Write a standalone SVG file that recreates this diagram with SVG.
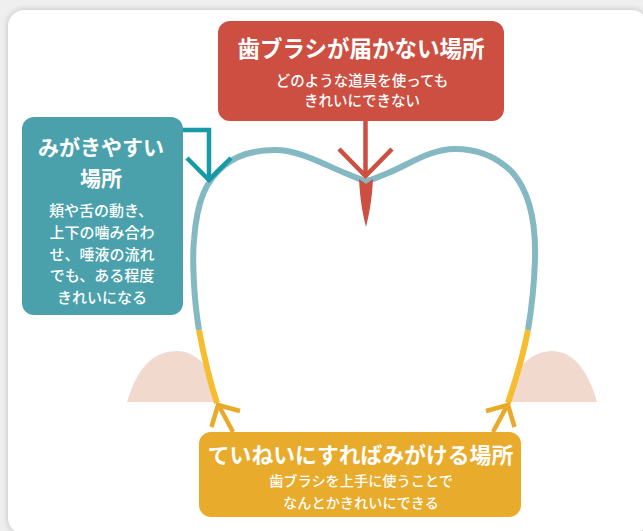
<svg xmlns="http://www.w3.org/2000/svg" width="643" height="531" viewBox="0 0 643 531">
  <defs>
    <filter id="soft" x="-10%" y="-10%" width="120%" height="120%">
      <feGaussianBlur stdDeviation="3"/>
    </filter>
    <style>
      .title { font-family: "Noto Sans CJK JP", "Noto Sans", sans-serif; font-weight: 700; fill: #ffffff; text-anchor: middle; }
      .body { font-family: "Noto Sans CJK JP", "Noto Sans", sans-serif; font-weight: 500; fill: #ffffff; text-anchor: middle; }
      .tooth { fill: none; stroke-width: 6; stroke-linecap: butt; }
      .arrow { fill: none; stroke-width: 4.5; stroke-linecap: butt; stroke-linejoin: miter; }
    </style>
  </defs>

  <!-- page background and card -->
  <rect width="643" height="531" fill="#efefef"/>
  <rect x="8" y="10" width="640" height="524" rx="16" fill="#000" opacity="0.22" filter="url(#soft)"/>
  <rect x="8" y="10" width="640" height="524" rx="16" fill="#ffffff"/>

  <!-- gums -->
  <g id="gums" fill="#f2d9ce">
    <path d="M127,402 C138,365 155,351 177,351 C196,351 213,368 225,402 Z"/>
    <path d="M503,402 C513,370 530,351 552,351 C573,351 588,370 597,402 Z"/>
  </g>

  <!-- tooth -->
  <g id="tooth">
    <path fill="#ffffff" d="M217,403 C210,382 204,357 199,330 C194,300 192,260 194,240 C197,200 206,180 225,165 C240,153 258,150 275,150 C300,150 325,165 345,173 C355,177 360,180 366,181 C372,180 378,177 388,173 C408,165 430,149 455,149 C475,149 495,155 512,172 C530,192 536,225 535,260 C534,290 531,312 528,330 C523,357 515,382 508,403 Z"/>
    <path class="tooth" stroke="#84b8c2" d="M199,330 C194,300 192,260 194,240 C197,200 206,180 225,165 C240,153 258,150 275,150 C300,150 325,165 345,173 C355,177 360,180 366,181 C372,180 378,177 388,173 C408,165 430,149 455,149 C475,149 495,155 512,172 C530,192 536,225 535,260 C534,290 531,312 528,330"/>
    <path class="tooth" stroke="#f6bd30" d="M199,330 C204,357 210,382 217,403"/>
    <path class="tooth" stroke="#f6bd30" d="M528,330 C523,357 515,382 508,403"/>
  </g>

  <!-- connectors -->
  <g id="connectors">
    <!-- unreachable spot: arrow into the groove -->
    <path fill="#cc4f41" d="M359,179 L366,184 L373,179 C372,200 369,215 366,227 C363,215 360,200 359,179 Z"/>
    <polyline class="arrow" stroke="#ffffff" stroke-width="8" points="339,149 365.5,176 392,149"/>
    <line class="arrow" stroke="#cc4f41" x1="365.5" y1="120" x2="365.5" y2="175"/>
    <polyline class="arrow" stroke="#cc4f41" points="339,149 365.5,176 392,149"/>

    <!-- easy spot -->
    <polyline class="arrow" stroke="#169aa6" points="183,130 209,130 209,179"/>
    <polyline class="arrow" stroke="#169aa6" points="187,158 209,180 231,158"/>

    <!-- careful-brushing spots -->
    <line class="arrow" stroke="#e9aa2a" x1="233" y1="432" x2="218.5" y2="405"/>
    <polyline class="arrow" stroke="#e9aa2a" points="211.5,427 218,405 240,411"/>
    <line class="arrow" stroke="#e9aa2a" x1="493" y1="432" x2="507.5" y2="405"/>
    <polyline class="arrow" stroke="#e9aa2a" points="514.5,427 508,405 486,411"/>
  </g>

  <!-- unreachable -->
  <g id="node-unreachable">
    <rect x="218" y="21" width="286" height="100" rx="12" fill="#cc4f41"/>
    <text class="title" x="361" y="57" font-size="22.5">歯ブラシが届かない場所</text>
    <text class="body" x="362" y="86" font-size="14.5">どのような道具を使っても</text>
    <text class="body" x="362" y="106" font-size="14.5">きれいにできない</text>
  </g>

  <!-- easy to brush -->
  <g id="node-easy">
    <rect x="22" y="117" width="161" height="198" rx="12" fill="#4aa1ac"/>
    <text class="title" x="101" y="155" font-size="21">みがきやすい</text>
    <text class="title" x="101" y="186" font-size="21">場所</text>
    <text class="body" x="101" y="216" font-size="15">頬や舌の動き、</text>
    <text class="body" x="102" y="238" font-size="15">上下の噛み合わ</text>
    <text class="body" x="102" y="260" font-size="15">せ、唾液の流れ</text>
    <text class="body" x="102" y="281" font-size="15">でも、ある程度</text>
    <text class="body" x="102" y="303" font-size="15">きれいになる</text>
  </g>

  <!-- careful brushing -->
  <g id="node-careful">
    <rect x="199" y="432" width="322" height="85" rx="12" fill="#e8ab2b"/>
    <text class="title" x="360.5" y="463" font-size="21.8">ていねいにすればみがける場所</text>
    <text class="body" x="361" y="486" font-size="14.2">歯ブラシを上手に使うことで</text>
    <text class="body" x="361" y="508" font-size="14.2">なんとかきれいにできる</text>
  </g>
</svg>
